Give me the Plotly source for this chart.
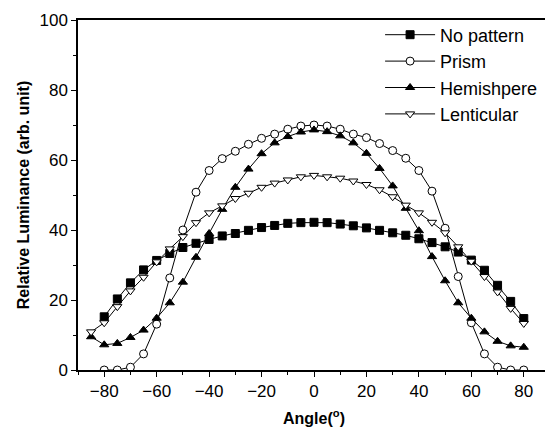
import plotly.graph_objects as go

# angles in degrees
angles_a = [-80, -75, -70, -65, -60, -55, -50, -45, -40, -35, -30, -25, -20, -15, -10, -5,
            0, 5, 10, 15, 20, 25, 30, 35, 40, 45, 50, 55, 60, 65, 70, 75, 80]
angles_b = [-85] + angles_a

no_pattern = [15.2, 20.3, 24.9, 28.6, 31.3, 33.3, 35.0, 36.2, 37.3, 38.3, 39.0, 39.9, 40.7,
              41.3, 41.9, 42.1, 42.2, 42.1, 41.7, 41.2, 40.6, 39.9, 39.2, 38.5, 37.5, 36.4,
              35.2, 33.7, 31.4, 28.5, 24.2, 19.6, 14.7]
prism = [0.0, 0.0, 0.8, 4.6, 13.1, 26.3, 40.0, 50.8, 57.0, 60.4, 62.5, 64.5, 66.2, 67.4,
         68.8, 69.7, 70.0, 69.7, 68.8, 67.4, 66.4, 64.7, 62.7, 60.5, 57.0, 51.1, 40.5, 26.7,
         13.5, 4.6, 0.8, 0.0, 0.0]
hemisphere = [9.5, 7.2, 7.6, 9.3, 11.4, 14.8, 19.2, 25.1, 32.2, 39.0, 45.9, 52.2, 57.4, 61.8,
              64.9, 66.7, 68.0, 68.6, 68.1, 66.9, 64.9, 61.9, 57.6, 52.6, 46.2, 39.8, 32.4,
              25.5, 19.2, 14.8, 10.9, 8.2, 6.9, 6.5]
lenticular = [10.9, 13.5, 18.1, 22.6, 26.5, 30.9, 34.6, 38.1, 42.1, 44.9, 46.9, 49.0, 50.5,
              52.2, 53.4, 54.3, 55.2, 55.6, 55.2, 54.8, 54.0, 53.0, 51.5, 49.5, 47.1, 44.9,
              42.2, 39.2, 35.2, 31.1, 26.7, 22.3, 17.6, 13.3]

FONT = "Liberation Sans, Arial, sans-serif"


def series(x, y, name, symbol, fill):
    return go.Scatter(
        x=x, y=y, name=name, mode="lines+markers",
        line=dict(color="black", width=1),
        marker=dict(symbol=symbol, size=8, color=fill,
                    line=dict(color="black", width=1)),
    )


fig = go.Figure()
fig.add_trace(series(angles_a, no_pattern, "No pattern", "square", "black"))
fig.add_trace(series(angles_a, prism, "Prism", "circle", "white"))
fig.add_trace(series(angles_b, hemisphere, "Hemishpere", "triangle-up", "black"))
fig.add_trace(series(angles_b, lenticular, "Lenticular", "triangle-down", "white"))

axis_common = dict(
    showline=True, linecolor="black", linewidth=1.5, mirror=True,
    ticks="outside", ticklen=5, tickwidth=1, tickcolor="black",
    showgrid=False, zeroline=False,
    tickfont=dict(family=FONT, size=17, color="black"),
    minor=dict(ticks="outside", ticklen=3, tickcolor="black", showgrid=False),
)

# page body adds 8px margin, so the figure is 8px smaller than the window
fig.update_layout(
    width=545, height=419,
    margin=dict(l=70, r=1, t=12, b=57),
    paper_bgcolor="white", plot_bgcolor="white",
    font=dict(family=FONT, color="black"),
    xaxis=dict(range=[-90, 90], dtick=20, tick0=0,
               title=dict(text="<b>Angle(<sup>o</sup>)</b>",
                          font=dict(size=16), standoff=13),
               **axis_common),
    yaxis=dict(range=[0, 100], dtick=20, tick0=0,
               title=dict(text="<b>Relative Luminance (arb. unit)</b>",
                          font=dict(size=16), standoff=6),
               **axis_common),
    legend=dict(x=0.64, y=1.01, xanchor="left", yanchor="top",
                font=dict(size=18, family=FONT), bgcolor="rgba(0,0,0,0)",
                itemwidth=50, tracegroupgap=0),
)
fig.update_xaxes(minor_dtick=10)
fig.update_yaxes(minor_dtick=10)

fig.write_html("out.html")
